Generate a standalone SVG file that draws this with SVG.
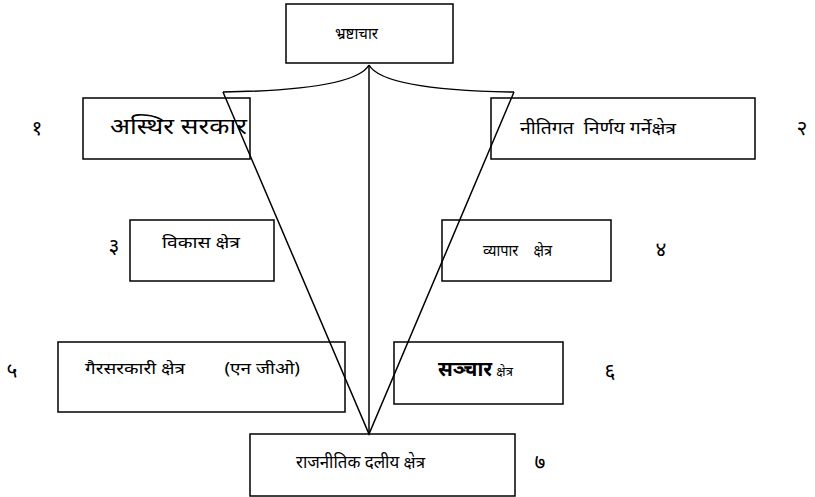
<svg xmlns="http://www.w3.org/2000/svg" width="815" height="497" viewBox="0 0 815 497">
<style>
.box{fill:#fff;stroke:#000;stroke-width:1.5}
.t{font-family:"Noto Sans","Liberation Sans",sans-serif;font-size:16px;fill:#000}
.n{font-family:"Noto Sans","Liberation Sans",sans-serif;font-size:21px;fill:#000;text-anchor:middle}
.c{fill:none;stroke:#000;stroke-width:1.5}
</style>
<rect width="815" height="497" fill="#fff"/>
<g id="n0"><rect class="box" x="286" y="4" width="167" height="59"/><text class="t" x="335" y="39" textLength="43" lengthAdjust="spacingAndGlyphs">भ्रष्टाचार</text></g>
<g id="n1"><rect class="box" x="83" y="98" width="167" height="61"/><text class="t" x="110" y="134" style="font-size:22px" textLength="137" lengthAdjust="spacingAndGlyphs">अस्थिर सरकार</text><text class="n" x="37" y="135">१</text></g>
<g id="n2"><rect class="box" x="491" y="98" width="264" height="61"/><text class="t" x="520" y="134" xml:space="preserve" style="font-size:17px" textLength="156" lengthAdjust="spacingAndGlyphs">नीतिगत  निर्णय गर्नेक्षेत्र</text><text class="n" x="802" y="135">२</text></g>
<g id="n3"><rect class="box" x="130" y="220" width="144" height="61"/><text class="t" x="162" y="248" textLength="78" lengthAdjust="spacingAndGlyphs">विकास क्षेत्र</text><text class="n" x="114" y="253">३</text></g>
<g id="n4"><rect class="box" x="442" y="220" width="169" height="61"/><text class="t" x="483" y="256" xml:space="preserve" textLength="69" lengthAdjust="spacingAndGlyphs">व्यापार    क्षेत्र</text><text class="n" x="661" y="256">४</text></g>
<g id="n5"><rect class="box" x="58" y="342" width="287" height="70"/><text class="t" x="85" y="374" xml:space="preserve" textLength="215" lengthAdjust="spacingAndGlyphs">गैरसरकारी क्षेत्र        (एन जीओ)</text><text class="n" x="12" y="378">५</text></g>
<g id="n6"><rect class="box" x="394" y="342" width="169" height="62"/><text class="t" x="438" y="376"><tspan style="font-size:20px;font-weight:bold">सञ्चार</tspan> <tspan style="font-size:13px">क्षेत्र</tspan></text><text class="n" x="610" y="378">६</text></g>
<g id="n7"><rect class="box" x="250" y="434" width="265" height="62"/><text class="t" x="296" y="468" style="font-size:17px" textLength="129" lengthAdjust="spacingAndGlyphs">राजनीतिक दलीय क्षेत्र</text><text class="n" x="540" y="469">७</text></g>
<g id="connectors">
<path class="c" d="M369,65 Q355,90 223,92"/>
<path class="c" d="M369,65 Q383,90 514,92"/>
<path class="c" d="M369,65 L369,434"/>
<path class="c" d="M223,92 L369,434 L514,92"/>
</g>
</svg>
